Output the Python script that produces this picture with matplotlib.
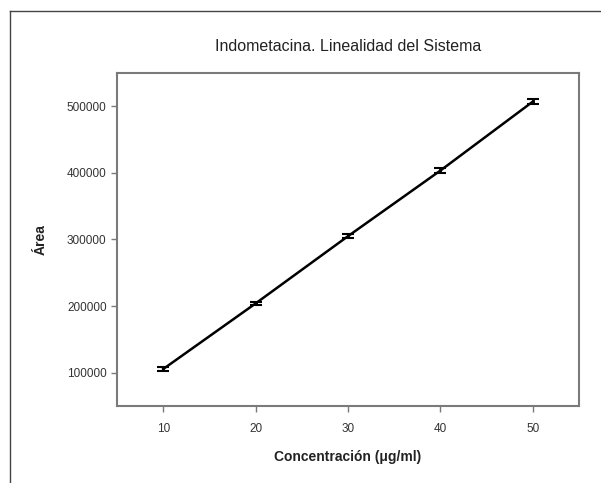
import matplotlib.pyplot as plt
from matplotlib.lines import Line2D

plt.rcParams['font.family'] = ['Liberation Sans', 'DejaVu Sans']

# datos
concentracion = [10, 20, 30, 40, 50]
area = [105500, 204000, 305000, 403500, 507000]
error = [3500, 2500, 3500, 3500, 3500]

fig = plt.figure(figsize=(6.01, 4.83), dpi=100)
ax = fig.add_axes([0.1947, 0.1594, 0.7687, 0.6895])

ax.errorbar(concentracion, area, yerr=error, color="black", linewidth=1.8,
            elinewidth=2, capsize=4, capthick=1.5)

ax.set_xlim(5, 55)
ax.set_ylim(50000, 550000)
ax.set_xticks(concentracion)
ax.set_yticks([100000, 200000, 300000, 400000, 500000])

for s in ax.spines.values():
    s.set_color("#7a7a7a")
    s.set_linewidth(1.5)
ax.tick_params(direction="out", length=4, width=1, color="#7a7a7a",
               labelsize=8.5, labelcolor="#333333")
ax.tick_params(axis="x", pad=8)

ax.set_title("Indometacina. Linealidad del Sistema", fontsize=11.5, pad=16,
             color="#222222")
ax.set_xlabel("Concentración (μg/ml)", fontsize=10, fontweight="bold", labelpad=11,
              color="#222222")
ax.set_ylabel("Área", fontsize=10, fontweight="bold", labelpad=14, color="#222222")

# marco del dibujo
fig.add_artist(Line2D([10 / 601, 10 / 601], [0, 1 - 11 / 483], transform=fig.transFigure,
                      color="#444444", linewidth=1))
fig.add_artist(Line2D([10 / 601, 1], [1 - 11 / 483, 1 - 11 / 483], transform=fig.transFigure,
                      color="#444444", linewidth=1))

fig.savefig("out.png", dpi=100)
